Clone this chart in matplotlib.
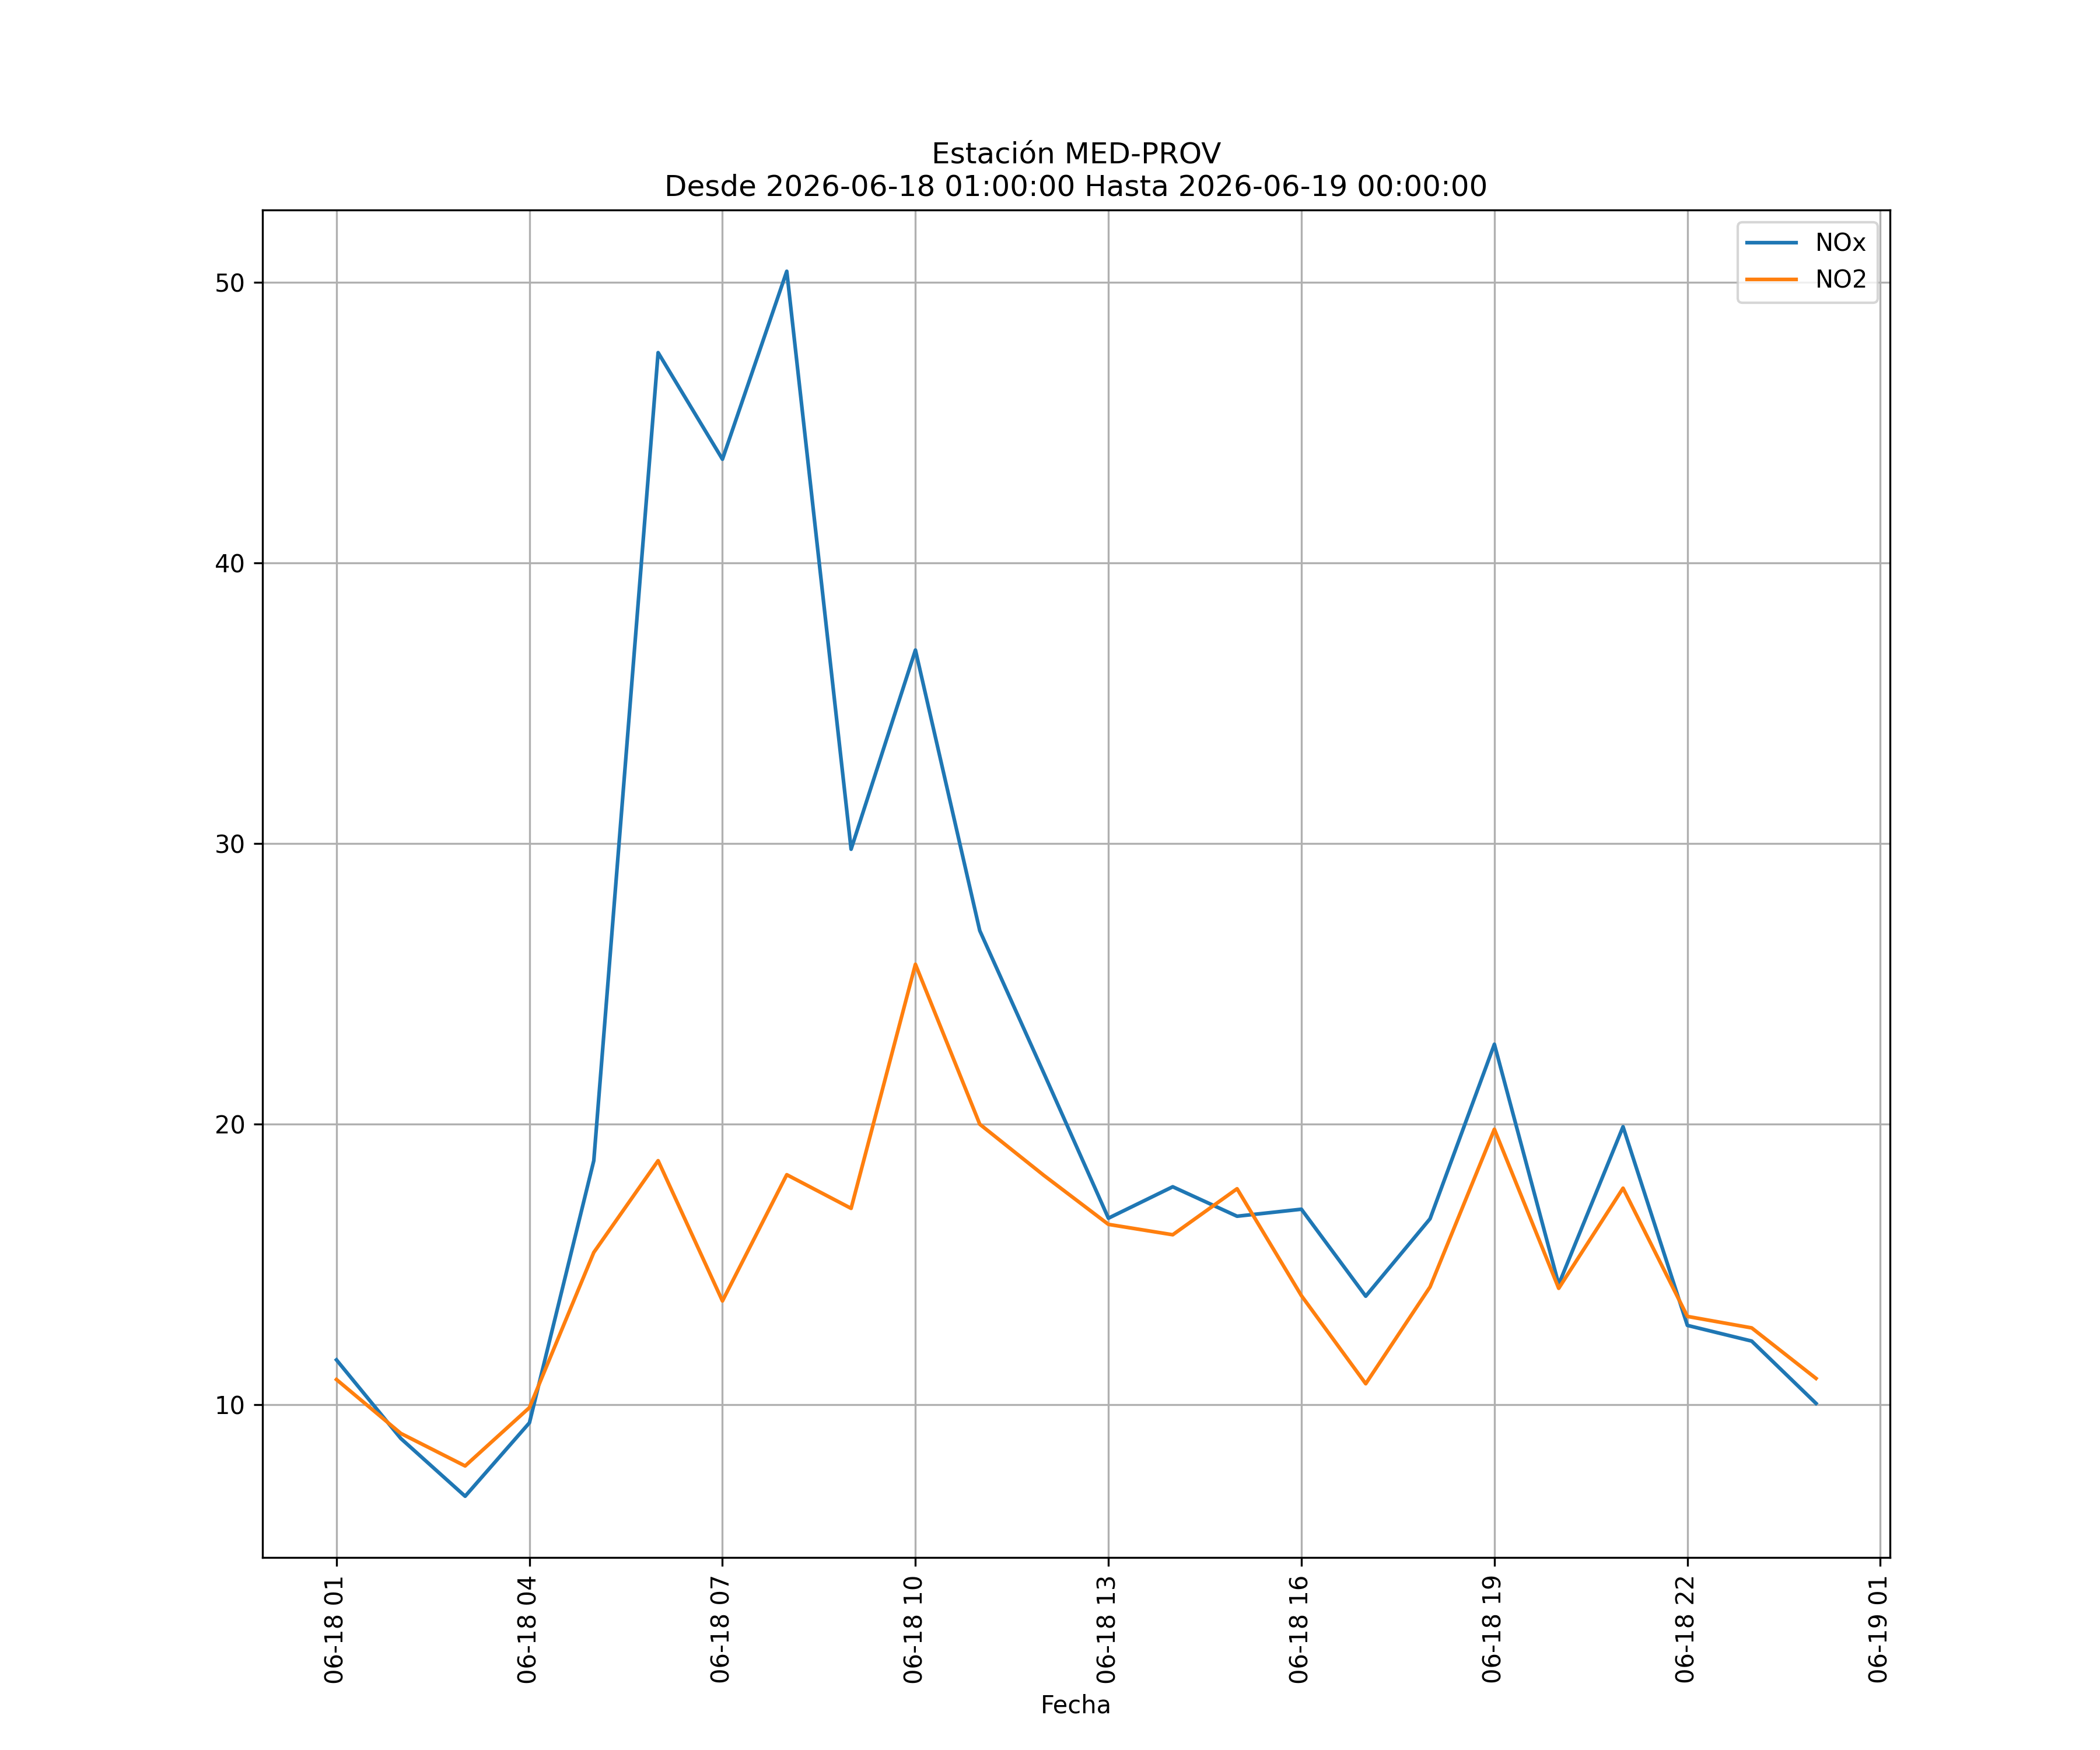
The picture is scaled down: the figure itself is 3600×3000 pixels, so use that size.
import matplotlib
matplotlib.use("Agg")
import matplotlib.pyplot as plt
import matplotlib.dates as mdates
import pandas as pd

# hourly values
fechas = pd.date_range("2026-06-18 01:00:00", "2026-06-19 00:00:00", freq="h")
nox = [11.6, 8.8, 6.74, 9.36, 18.7, 47.5, 43.7, 50.4, 29.8, 36.9, 26.9, 21.8,
       16.65, 17.77, 16.72, 16.97, 13.87, 16.63, 22.85, 14.29, 19.91, 12.83, 12.27, 10.05]
no2 = [10.9, 8.98, 7.82, 9.9, 15.43, 18.7, 13.7, 18.2, 17.0, 25.7, 20.0, 18.17,
       16.43, 16.06, 17.7, 13.89, 10.75, 14.2, 19.82, 14.15, 17.72, 13.15, 12.74, 10.94]
horas_tick = [1, 4, 7, 10, 13, 16, 19, 22]

estacion = "MED-PROV"
desde = "2026-06-18 01:00:00"
hasta = "2026-06-19 00:00:00"

fig = plt.figure(figsize=(12, 10), dpi=300)
ax = plt.gca()
plt.plot(fechas, nox, label="NOx")
plt.plot(fechas, no2, label="NO2")
plt.title("Estación " + estacion + "\nDesde " + desde + " Hasta " + hasta)
plt.xlabel("Fecha")
ax.xaxis.set_major_locator(mdates.HourLocator(byhour=horas_tick))
ax.xaxis.set_major_formatter(mdates.DateFormatter("%m-%d %H"))
plt.xticks(rotation=90)
plt.grid(True)
plt.legend(loc="upper right")
plt.savefig("out.png", dpi=300)
